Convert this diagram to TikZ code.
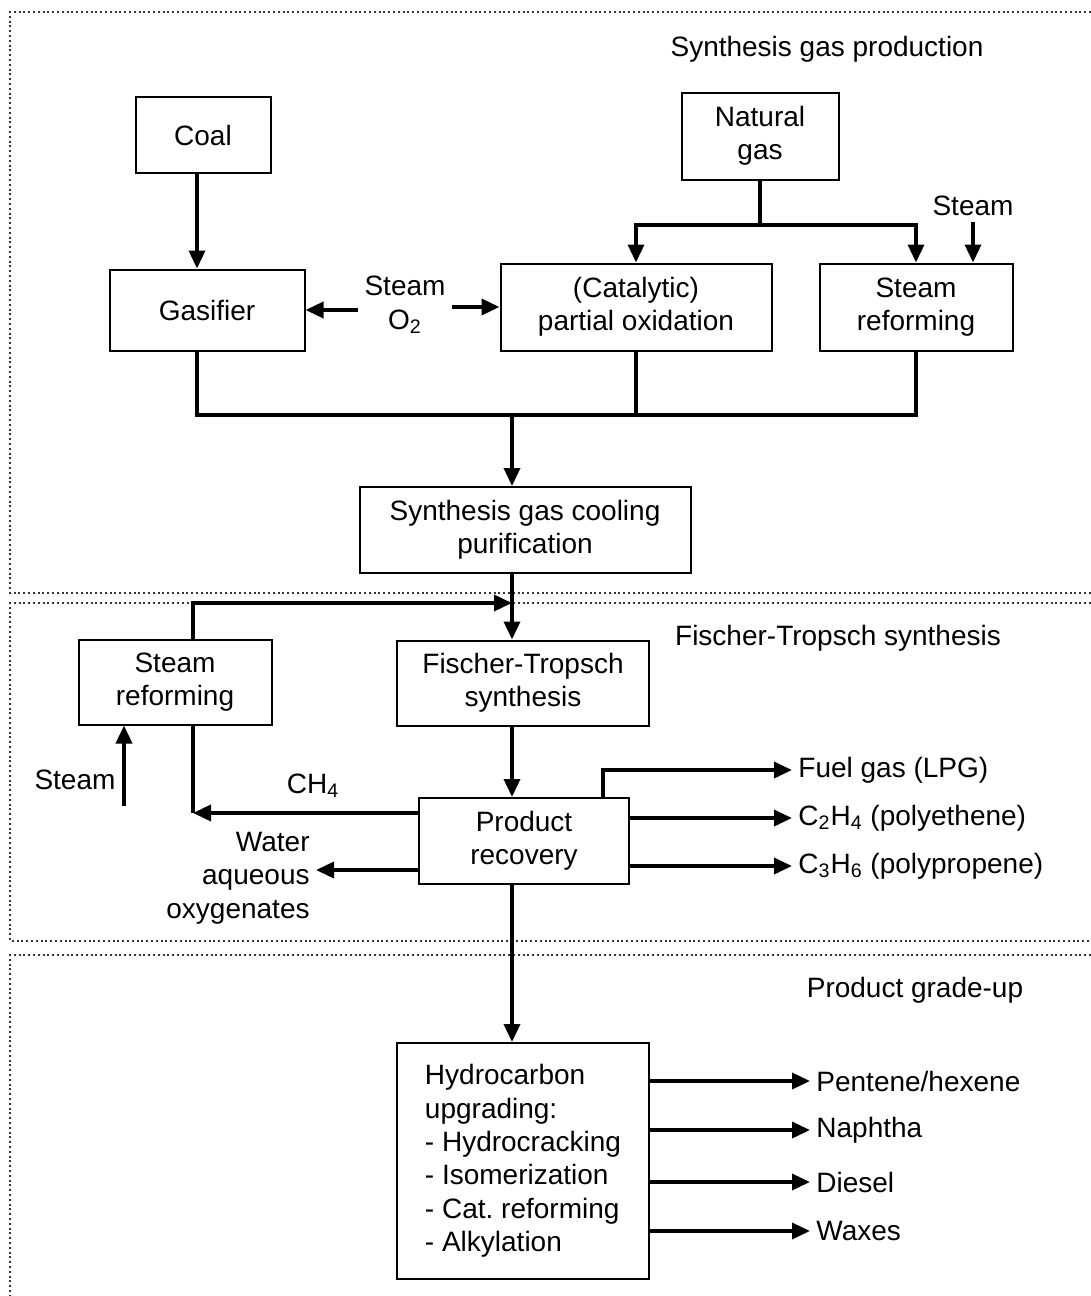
\documentclass[tikz,border=0pt]{standalone}
\usepackage{fontspec}
\setmainfont{Liberation Sans}
\usetikzlibrary{arrows.meta}

\begin{document}
\begin{tikzpicture}[x=0.5pt, y=-0.5pt,
    every node/.style={font=\fontsize{14}{16.7}\selectfont},
    box/.style={draw, line width=1pt, align=center, inner sep=0pt},
    txt/.style={align=center, inner sep=3pt},
    flow/.style={line width=1.8pt, -{Triangle[length=9pt,width=8pt]}},
    link/.style={line width=1.8pt},
    zone/.style={line width=1pt, black!80, dash pattern=on 1pt off 1.4pt}]
    \useasboundingbox (0,0) rectangle (1091,1296);

    \draw[zone] (1091,12) -- (10,12) -- (10,593) -- (1091,593);
    \draw[zone] (1091,603) -- (10,603) -- (10,941) -- (1091,941);
    \draw[zone] (1091,955) -- (10,955) -- (10,1296);

    \node[txt] (sgp) at (827,49) {Synthesis gas production};
    \node[box, minimum width=67.5pt, minimum height=38pt] (coal) at (203,135) {Coal};
    \node[box, minimum width=78.5pt, minimum height=43.5pt] (natgas) at (760,136) {Natural\\gas};
    \node[box, minimum width=97.5pt, minimum height=40.5pt] (gasifier) at (207,310) {Gasifier};
    \node[box, minimum width=135.5pt, minimum height=43.5pt] (cpo) at (636,307) {(Catalytic)\\partial oxidation};
    \node[box, minimum width=96.5pt, minimum height=43.5pt] (srtop) at (916,307) {Steam\\reforming};
    \node[txt] (steamox) at (405,305) {Steam\\O\textsubscript{2}};
    \node[txt] (steamtop) at (973,206) {Steam};
    \node[box, minimum width=165.5pt, minimum height=43pt] (cool) at (525,530) {Synthesis gas cooling\\purification};

    \coordinate (ngsplit) at (762,225);
    \coordinate (merge) at (512,415);
    \coordinate (coalline) at (197,0);
    \draw[flow] (coal.south -| coalline) -- (gasifier.north -| coalline);
    \draw[link] (natgas.south) -- (natgas.south |- ngsplit);
    \draw[flow] (ngsplit) -| (cpo.north);
    \draw[flow] (ngsplit) -| (srtop.north);
    \draw[flow] (steamtop.south) -- (steamtop.south |- srtop.north);
    \draw[flow] (steamox.west |- gasifier) -- (gasifier.east);
    \draw[flow] (steamox.east |- cpo) -- (cpo.west);
    \draw[link] (gasifier.south -| coalline) |- (merge) -| (srtop.south);
    \draw[link] (cpo.south) -- (cpo.south |- merge);
    \draw[flow] (merge) -- (merge |- cool.north);

    \node[txt] (fts) at (838,638) {Fischer-Tropsch synthesis};
    \node[box, minimum width=96.5pt, minimum height=42.5pt] (srleft) at (175,682) {Steam\\reforming};
    \node[box, minimum width=126pt, minimum height=42.5pt] (ft) at (523,683) {Fischer-Tropsch\\synthesis};
    \node[box, minimum width=105pt, minimum height=43pt] (recov) at (524,841) {Product\\recovery};
    \node[txt] (steamleft) at (75,780) {Steam};
    \node[txt] (ch4) at (313,786) {CH\textsubscript{4}};
    \node[txt, align=right, anchor=east] (water) at (316,878) {Water\\aqueous\\oxygenates};
    \node[txt, anchor=west] (fuel) at (792,770) {Fuel gas (LPG)};
    \node[txt, anchor=west] (ethene) at (792,818) {C\textsubscript{2}H\textsubscript{4} (polyethene)};
    \node[txt, anchor=west] (propene) at (792,866) {C\textsubscript{3}H\textsubscript{6} (polypropene)};

    \coordinate (spine) at (512,0);
    \coordinate (rejoin) at (512,603);
    \coordinate (ch4turn) at (193,813);
    \coordinate (steamfoot) at (124,806);
    \draw[flow] (cool.south -| spine) -- (ft.north -| spine);
    \draw[flow] ([xshift=9pt]srleft.north) |- (rejoin);
    \draw[flow] (ft.south -| spine) -- (recov.north -| spine);
    \draw[flow] (recov.west |- ch4turn) -- (ch4turn);
    \draw[link] (ch4turn) -- (ch4turn |- srleft.south);
    \draw[flow] (steamfoot) -- (steamfoot |- srleft.south);
    \draw[flow] ([yshift=4pt]recov.west |- water) -- ([yshift=4pt]water.east);
    \draw[flow] ([xshift=39.5pt]recov.north) |- (fuel.west);
    \draw[flow] (recov.east |- ethene) -- (ethene.west);
    \draw[flow] (recov.east |- propene) -- (propene.west);

    \node[txt] (grade) at (915,990) {Product grade-up};
    \node[box, align=left, minimum width=126pt, minimum height=118pt] (upgr) at (523,1161) {Hydrocarbon\\upgrading:\\- Hydrocracking\\- Isomerization\\- Cat.\ reforming\\- Alkylation};
    \node[txt, anchor=west] (pent) at (810,1081) {Pentene/hexene};
    \node[txt, anchor=west] (naph) at (810,1130) {Naphtha};
    \node[txt, anchor=west] (diesel) at (810,1182) {Diesel};
    \node[txt, anchor=west] (waxes) at (810,1231) {Waxes};

    \draw[flow] (recov.south -| spine) -- (upgr.north -| spine);
    \draw[flow] (upgr.east |- pent) -- (pent.west);
    \draw[flow] (upgr.east |- naph) -- (naph.west);
    \draw[flow] (upgr.east |- diesel) -- (diesel.west);
    \draw[flow] (upgr.east |- waxes) -- (waxes.west);
\end{tikzpicture}
\end{document}
